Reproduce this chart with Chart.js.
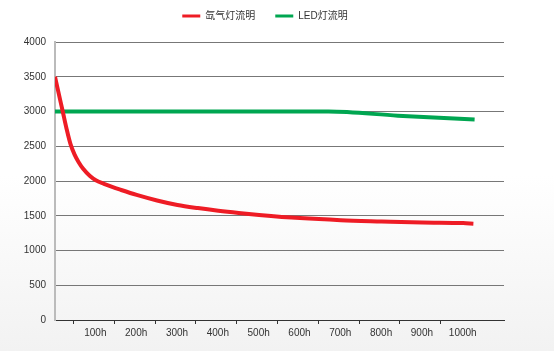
<!DOCTYPE html>
<html>
<head>
<meta charset="utf-8">
<script src="https://cdn.jsdelivr.net/npm/chart.js@4"></script>
<style>
  html, body { margin: 0; padding: 0; }
  body {
    width: 554px; height: 351px; overflow: hidden;
    background: linear-gradient(to bottom, #ffffff 0%, #ffffff 50%, #f2f2f2 100%);
  }
  #wrap { width: 554px; height: 351px; position: relative; }
</style>
</head>
<body>
<div id="wrap"><canvas id="lumenChart"></canvas></div>
<script>
// series names
const seriesNames = ['氙气灯流明', 'LED灯流明']

// xenon lamp: hours / lumen
const xenonHours = [0, 10, 19, 28, 38, 48, 58, 69, 85, 100, 120, 140, 160, 200, 250, 300, 350, 400, 450, 500, 600, 700, 800, 900, 1000, 1025]
const xenonLumen = [3500, 3235, 3000, 2760, 2530, 2380, 2270, 2175, 2075, 2010, 1960, 1915, 1875, 1800, 1720, 1655, 1610, 1572, 1540, 1512, 1466, 1436, 1418, 1402, 1394, 1386]

// LED lamp: hours / lumen
const ledHours = [0, 670, 840, 1028]
const ledLumen = [3000, 3000, 2940, 2885]

// x tick marks sit between the hour labels
const xTickPos = [45, 145, 245, 345, 445, 545, 645, 745, 845, 945]
const xTickLabels = ['100h', '200h', '300h', '400h', '500h', '600h', '700h', '800h', '900h', '1000h']

const toPoints = (xs, ys) => xs.map((x, i) => ({ x: x, y: ys[i] }))

const fontFamily = '"Liberation Sans", Arial, "Noto Sans CJK SC", sans-serif'

// legend sits a bit right of centre, plot starts lower
const legendTweak = {
  id: 'legendTweak',
  beforeInit(chart) {
    const legend = chart.legend
    const fit = legend.fit
    legend.fit = function () {
      fit.bind(legend)()
      this.height += 11
    }
    const draw = legend.draw
    legend.draw = function () {
      this.ctx.save()
      this.ctx.translate(13, 0)
      draw.bind(legend)()
      this.ctx.restore()
    }
  },
}

new Chart(document.getElementById('lumenChart'), {
  type: 'line',
  data: {
    datasets: [
      {
        label: seriesNames[0],
        data: toPoints(xenonHours, xenonLumen),
        borderColor: '#ee1c25',
        backgroundColor: '#ee1c25',
        borderWidth: 4,
        pointRadius: 0,
        cubicInterpolationMode: 'monotone',
      },
      {
        label: seriesNames[1],
        data: toPoints(ledHours, ledLumen),
        borderColor: '#00a651',
        backgroundColor: '#00a651',
        borderWidth: 4,
        pointRadius: 0,
        cubicInterpolationMode: 'monotone',
      },
    ],
  },
  plugins: [legendTweak],
  options: {
    responsive: true,
    maintainAspectRatio: false,
    animation: false,
    layout: { padding: { left: 0, right: 50, top: -9, bottom: 0 } },
    plugins: {
      tooltip: { enabled: false },
      legend: {
        position: 'top',
        labels: {
          boxWidth: 18,
          boxHeight: 3,
          padding: 20,
          color: '#333',
          font: { family: fontFamily, size: 10 },
          generateLabels: (chart) => {
            const items = Chart.defaults.plugins.legend.labels.generateLabels(chart)
            items.forEach((it) => { it.lineWidth = 0 })
            return items
          },
        },
      },
    },
    scales: {
      x: {
        type: 'linear',
        min: 0,
        max: 1100,
        afterBuildTicks: (axis) => {
          axis.ticks = xTickPos.map((v) => ({ value: v }))
        },
        afterFit: (axis) => { axis.height = 31 },
        ticks: {
          autoSkip: false,
          maxRotation: 0,
          labelOffset: 22,
          padding: 3,
          color: '#333',
          font: { family: fontFamily, size: 10 },
          callback: (value) => {
            const i = xTickPos.indexOf(value)
            return i >= 0 ? xTickLabels[i] : ''
          },
        },
        grid: {
          drawOnChartArea: false,
          drawTicks: true,
          tickLength: 4,
          color: '#333',
        },
        border: { color: '#333', width: 1 },
      },
      y: {
        min: 0,
        max: 4000,
        afterFit: (axis) => { axis.width = 55 },
        ticks: {
          stepSize: 500,
          padding: 9,
          color: '#333',
          font: { family: fontFamily, size: 10 },
          callback: (value) => String(value),
        },
        grid: {
          drawTicks: false,
          color: '#777',
          lineWidth: 1,
        },
        border: { color: '#bbb', width: 2 },
      },
    },
  },
})
</script>
</body>
</html>
